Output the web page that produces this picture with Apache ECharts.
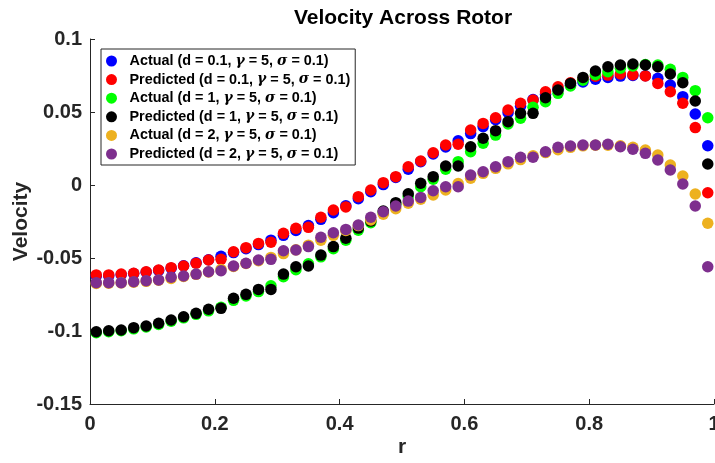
<!DOCTYPE html>
<html>
<head>
<meta charset="utf-8">
<script src="https://cdn.jsdelivr.net/npm/echarts@6/dist/echarts.min.js"></script>
<style>
  html, body { margin: 0; padding: 0; background: #fff; }
  #main { width: 715px; height: 463px; }
</style>
</head>
<body>
<div id="main"></div>
<script>
// radial positions
var r = [0.01, 0.03, 0.05, 0.07, 0.09, 0.11, 0.13, 0.15, 0.17, 0.19,
         0.21, 0.23, 0.25, 0.27, 0.29, 0.31, 0.33, 0.35, 0.37, 0.39,
         0.41, 0.43, 0.45, 0.47, 0.49, 0.51, 0.53, 0.55, 0.57, 0.59,
         0.61, 0.63, 0.65, 0.67, 0.69, 0.71, 0.73, 0.75, 0.77, 0.79,
         0.81, 0.83, 0.85, 0.87, 0.89, 0.91, 0.93, 0.95, 0.97, 0.99];

var actualD01 = [-0.0625, -0.0622, -0.0615, -0.0607, -0.0597, -0.0585, -0.0570, -0.0553, -0.0533, -0.0512,
                 -0.0488, -0.0463, -0.0436, -0.0408, -0.0378, -0.0345, -0.0312, -0.0277, -0.0235, -0.0190,
                 -0.0142, -0.0094, -0.0046, 0.0003, 0.0052, 0.0108, 0.0160, 0.0212, 0.0260, 0.0303,
                 0.0352, 0.0400, 0.0448, 0.0495, 0.0540, 0.0585, 0.0622, 0.0655, 0.0684, 0.0706,
                 0.0724, 0.0737, 0.0746, 0.0750, 0.0748, 0.0731, 0.0685, 0.0605, 0.0486, 0.0269];

var predictedD01 = [-0.0616, -0.0616, -0.0610, -0.0605, -0.0594, -0.0582, -0.0566, -0.0555, -0.0536, -0.0514,
                    -0.0509, -0.0457, -0.0429, -0.0400, -0.0392, -0.0331, -0.0297, -0.0290, -0.0221, -0.0171,
                    -0.0150, -0.0080, -0.0034, 0.0016, 0.0057, 0.0125, 0.0164, 0.0221, 0.0274, 0.0279,
                    0.0377, 0.0422, 0.0461, 0.0514, 0.0560, 0.0582, 0.0639, 0.0673, 0.0700, 0.0725,
                    0.0745, 0.0753, 0.0760, 0.0755, 0.0747, 0.0696, 0.0639, 0.0560, 0.0393, -0.0053];

var actualD1 = [-0.1012, -0.1005, -0.0998, -0.0985, -0.0972, -0.0955, -0.0933, -0.0910, -0.0886, -0.0862,
                -0.0838, -0.0790, -0.0760, -0.0730, -0.0690, -0.0628, -0.0580, -0.0540, -0.0492, -0.0436,
                -0.0378, -0.0310, -0.0258, -0.0190, -0.0132, -0.0078, -0.0012, 0.0039, 0.0108, 0.0160,
                0.0228, 0.0286, 0.0342, 0.0418, 0.0457, 0.0532, 0.0571, 0.0628, 0.0678, 0.0718,
                0.0755, 0.0776, 0.0800, 0.0815, 0.0825, 0.0822, 0.0792, 0.0737, 0.0646, 0.0461];

var predictedD1 = [-0.1005, -0.0998, -0.0993, -0.0977, -0.0966, -0.0947, -0.0925, -0.0902, -0.0879, -0.0851,
                   -0.0845, -0.0776, -0.0749, -0.0715, -0.0715, -0.0610, -0.0560, -0.0555, -0.0480, -0.0422,
                   -0.0365, -0.0295, -0.0247, -0.0178, -0.0121, -0.0060, 0.0012, 0.0057, 0.0130, 0.0130,
                   0.0262, 0.0320, 0.0372, 0.0434, 0.0491, 0.0491, 0.0598, 0.0651, 0.0696, 0.0737,
                   0.0781, 0.0810, 0.0822, 0.0829, 0.0822, 0.0810, 0.0760, 0.0700, 0.0575, 0.0144];

var actualD2 = [-0.0675, -0.0673, -0.0670, -0.0666, -0.0660, -0.0652, -0.0640, -0.0627, -0.0612, -0.0596,
                -0.0578, -0.0558, -0.0538, -0.0518, -0.0496, -0.0470, -0.0444, -0.0412, -0.0378, -0.0345,
                -0.0312, -0.0278, -0.0240, -0.0200, -0.0162, -0.0125, -0.0098, -0.0068, -0.0034, 0.0010,
                0.0046, 0.0080, 0.0114, 0.0145, 0.0174, 0.0200, 0.0222, 0.0242, 0.0258, 0.0268,
                0.0272, 0.0272, 0.0268, 0.0258, 0.0240, 0.0205, 0.0137, 0.0062, -0.0062, -0.0262];

var predictedD2 = [-0.0669, -0.0669, -0.0669, -0.0662, -0.0655, -0.0650, -0.0632, -0.0623, -0.0610, -0.0594,
                   -0.0587, -0.0555, -0.0536, -0.0514, -0.0509, -0.0450, -0.0445, -0.0422, -0.0358, -0.0327,
                   -0.0304, -0.0274, -0.0221, -0.0183, -0.0144, -0.0110, -0.0085, -0.0039, -0.0012, -0.0012,
                   0.0068, 0.0091, 0.0125, 0.0160, 0.0190, 0.0190, 0.0228, 0.0258, 0.0267, 0.0274,
                   0.0274, 0.0279, 0.0262, 0.0245, 0.0217, 0.0171, 0.0103, 0.0007, -0.0144, -0.0560];

var seriesNames = ['Actual (d = 0.1, γ = 5, σ = 0.1)',
                   'Predicted (d = 0.1, γ = 5, σ = 0.1)',
                   'Actual (d = 1, γ = 5, σ = 0.1)',
                   'Predicted (d = 1, γ = 5, σ = 0.1)',
                   'Actual (d = 2, γ = 5, σ = 0.1)',
                   'Predicted (d = 2, γ = 5, σ = 0.1)'];
var seriesValues = [actualD01, predictedD01, actualD1, predictedD1, actualD2, predictedD2];
var seriesColors = ['#0000ff', '#ff0000', '#00ff00', '#000000', '#edb120', '#7e2f8e'];

var xTicks = [0, 0.2, 0.4, 0.6, 0.8, 1];
var yTicks = [-0.15, -0.1, -0.05, 0, 0.05, 0.1];

var FONT = '"Liberation Sans", Arial, Helvetica, sans-serif';
var AXIS_COLOR = '#262626';

var myChart = echarts.init(document.getElementById('main'));

var series = [];
for (var i = 0; i < seriesNames.length; i++) {
    var pts = [];
    for (var j = 0; j < r.length; j++) {
        pts.push([r[j], seriesValues[i][j]]);
    }
    series.push({
        name: seriesNames[i],
        type: 'scatter',
        symbol: 'circle',
        symbolSize: 11.5,
        clip: false,
        itemStyle: { color: seriesColors[i], opacity: 1 },
        data: pts
    });
}

function fmt(v) {
    return String(Math.round(v * 100) / 100);
}

myChart.setOption({
    animation: false,
    backgroundColor: '#ffffff',
    title: {
        text: 'Velocity Across Rotor',
        left: 403,
        top: 8,
        padding: 0,
        textAlign: 'center',
        textStyle: { fontFamily: FONT, fontWeight: 'bold', fontSize: 21, color: '#000' }
    },
    legend: {
        orient: 'vertical',
        left: 101,
        top: 49,
        padding: [4, 5, 3, 5],
        itemGap: 2.6,
        itemWidth: 26,
        itemHeight: 11,
        icon: 'circle',
        backgroundColor: '#fff',
        borderColor: AXIS_COLOR,
        borderWidth: 1,
        data: seriesNames,
        formatter: function (name) {
            return name.replace('γ', '{g|γ}').replace('σ', '{g|σ}');
        },
        textStyle: {
            fontFamily: FONT,
            fontWeight: 'bold',
            fontSize: 14.4,
            lineHeight: 16,
            color: '#000',
            rich: {
                g: { fontFamily: '"DejaVu Serif", serif', fontStyle: 'italic', fontSize: 14, lineHeight: 16, color: '#000' }
            }
        }
    },
    grid: {
        left: 90,
        right: 1,
        top: 39,
        bottom: 59,
        containLabel: false,
        outerBoundsMode: 'none'
    },
    xAxis: {
        type: 'value',
        min: xTicks[0],
        max: xTicks[xTicks.length - 1],
        interval: 0.2,
        name: 'r',
        nameLocation: 'middle',
        nameGap: 33,
        nameMoveOverlap: false,
        nameTextStyle: { fontFamily: FONT, fontWeight: 'bold', fontSize: 21, color: AXIS_COLOR },
        axisLine: { show: true, onZero: false, lineStyle: { color: AXIS_COLOR, width: 1 } },
        axisTick: { show: true, inside: true, length: 5, lineStyle: { color: AXIS_COLOR } },
        axisLabel: {
            margin: 10,
            hideOverlap: false,
            fontFamily: FONT, fontWeight: 'bold', fontSize: 20, color: AXIS_COLOR,
            formatter: fmt
        },
        splitLine: { show: false }
    },
    yAxis: {
        type: 'value',
        min: yTicks[0],
        max: yTicks[yTicks.length - 1],
        interval: 0.05,
        name: 'Velocity',
        nameLocation: 'middle',
        nameGap: 58,
        nameMoveOverlap: false,
        nameTextStyle: { fontFamily: FONT, fontWeight: 'bold', fontSize: 21, color: AXIS_COLOR },
        axisLine: { show: true, onZero: false, lineStyle: { color: AXIS_COLOR, width: 1 } },
        axisTick: { show: true, inside: true, length: 5, lineStyle: { color: AXIS_COLOR } },
        axisLabel: {
            margin: 8,
            fontFamily: FONT, fontWeight: 'bold', fontSize: 20, color: AXIS_COLOR,
            formatter: fmt
        },
        splitLine: { show: false }
    },
    series: series
});
</script>
</body>
</html>
